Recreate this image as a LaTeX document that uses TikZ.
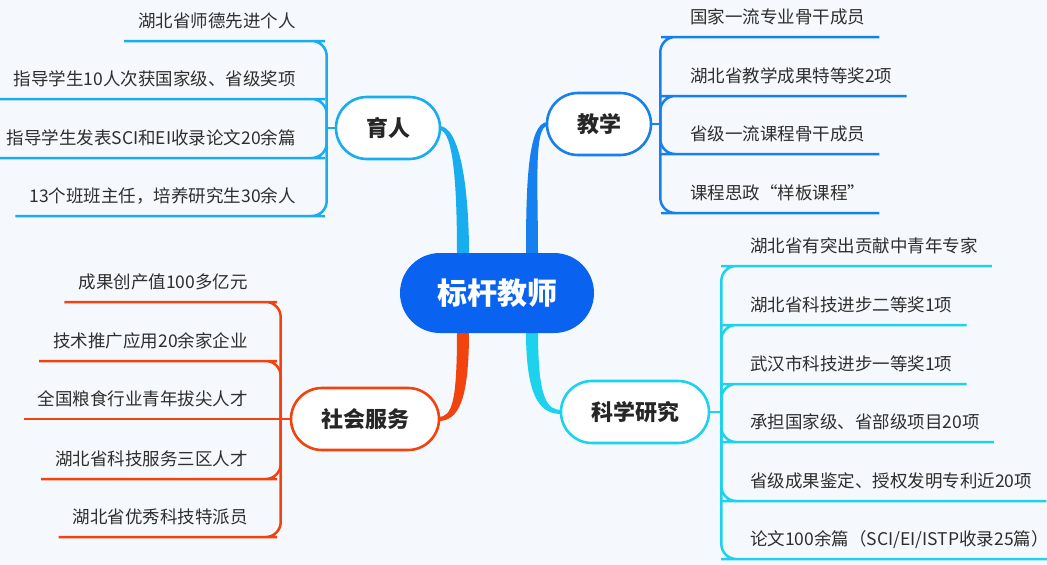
\documentclass[tikz,border=0pt]{standalone}
\usepackage{fontspec}
\usepackage{tikz}
\usetikzlibrary{positioning,calc}
\newfontfamily\cjk{Noto Sans CJK SC}
\definecolor{bgcol}{HTML}{F5F9FD}
\definecolor{hubcol}{HTML}{0A63F0}
\definecolor{yrcol}{HTML}{17ADEE}
\definecolor{jxcol}{HTML}{1681EE}
\definecolor{kycol}{HTML}{1DD2EC}
\definecolor{shcol}{HTML}{F2430F}
\definecolor{txtcol}{HTML}{2E2E2E}
\pgfdeclarelayer{back}
\pgfsetlayers{back,main}

\begin{document}
\begin{tikzpicture}[x=1pt,y=-1pt]
\tikzstyle{root}=[rectangle, rounded corners=40pt, fill=hubcol, text=white, minimum width=194pt, minimum height=80pt, font=\cjk\bfseries\fontsize{30}{32}\selectfont]
\tikzstyle{topic}=[rectangle, rounded corners=31pt, fill=white, line width=2.6pt, minimum height=62pt, inner xsep=30pt, text=black!85, font=\cjk\bfseries\fontsize{22}{24}\selectfont]
\tikzstyle{leaf}=[inner xsep=14pt, inner ysep=10pt, text height=13pt, text depth=3.5pt, text=txtcol, font=\cjk\fontsize{17.5}{20}\selectfont]
\tikzstyle{leafl}=[leaf, anchor=south east]
\tikzstyle{leafr}=[leaf, anchor=south west]
\tikzstyle{twig}=[line width=2.5pt, rounded corners=15pt]
  \useasboundingbox (0,0) rectangle (1047,565);

  \node[root] (teacher) at (497,293) {标杆教师};
  \node[topic, draw=yrcol] (yuren) at (388,128) {育人};
  \node[topic, draw=jxcol] (jiaoxue) at (599,124) {教学};
  \node[topic, draw=kycol] (keyan) at (635,412) {科学研究};
  \node[topic, draw=shcol] (shehui) at (365,419) {社会服务};

  \coordinate[left=8pt of yuren] (yrhub);
  \coordinate[right=8pt of jiaoxue] (jxhub);
  \coordinate[right=11pt of keyan] (kyhub);
  \coordinate[left=9pt of shehui] (shhub);

  % 育人
  \node[leafl] (yr1) at (310,41) {湖北省师德先进个人};
  \node[leafl] (yr2) at (310,99) {指导学生10人次获国家级、省级奖项};
  \node[leafl] (yr3) at (310,158) {指导学生发表SCI和EI收录论文20余篇};
  \node[leafl] (yr4) at (310,216) {13个班班主任，培养研究生30余人};
  \draw[twig, yrcol] (yuren.west) -- (yrhub);
  \draw[twig, yrcol] (yrhub) |- (yr1.south east) -- (yr1.south west);
  \draw[twig, yrcol] (yrhub) |- (yr2.south east) -- (yr2.south west);
  \draw[twig, yrcol] (yrhub) |- (yr3.south east) -- (yr3.south west);
  \draw[twig, yrcol] (yrhub) |- (yr4.south east) -- (yr4.south west);

  % 教学
  \node[leafr] (jx1) at (676,37) {国家一流专业骨干成员};
  \node[leafr] (jx2) at (676,96) {湖北省教学成果特等奖2项};
  \node[leafr] (jx3) at (676,154) {省级一流课程骨干成员};
  \node[leafr] (jx4) at (676,213) {课程思政“样板课程”};
  \draw[twig, jxcol] (jiaoxue.east) -- (jxhub);
  \draw[twig, jxcol] (jxhub) |- (jx1.south west) -- (jx1.south east);
  \draw[twig, jxcol] (jxhub) |- (jx2.south west) -- (jx2.south east);
  \draw[twig, jxcol] (jxhub) |- (jx3.south west) -- (jx3.south east);
  \draw[twig, jxcol] (jxhub) |- (jx4.south west) -- (jx4.south east);

  % 科学研究
  \node[leafr] (ky1) at (736,266) {湖北省有突出贡献中青年专家};
  \node[leafr] (ky2) at (736,325) {湖北省科技进步二等奖1项};
  \node[leafr] (ky3) at (736,384) {武汉市科技进步一等奖1项};
  \node[leafr] (ky4) at (736,442) {承担国家级、省部级项目20项};
  \node[leafr] (ky5) at (736,501) {省级成果鉴定、授权发明专利近20项};
  \node[leafr] (ky6) at (736,559) {论文100余篇（SCI/EI/ISTP收录25篇）};
  \draw[twig, kycol] (keyan.east) -- (kyhub);
  \draw[twig, kycol] (kyhub) |- (ky1.south west) -- (ky1.south east);
  \draw[twig, kycol] (kyhub) |- (ky2.south west) -- (ky2.south east);
  \draw[twig, kycol] (kyhub) |- (ky3.south west) -- (ky3.south east);
  \draw[twig, kycol] (kyhub) |- (ky4.south west) -- (ky4.south east);
  \draw[twig, kycol] (kyhub) |- (ky5.south west) -- (ky5.south east);
  \draw[twig, kycol] (kyhub) |- (ky6.south west) -- (ky6.south east);

  % 社会服务
  \node[leafl] (sh1) at (262,302) {成果创产值100多亿元};
  \node[leafl] (sh2) at (262,361) {技术推广应用20余家企业};
  \node[leafl] (sh3) at (262,419) {全国粮食行业青年拔尖人才};
  \node[leafl] (sh4) at (262,479) {湖北省科技服务三区人才};
  \node[leafl] (sh5) at (262,537) {湖北省优秀科技特派员};
  \draw[twig, shcol] (shehui.west) -- (shhub);
  \draw[twig, shcol] (shhub) |- (sh1.south east) -- (sh1.south west);
  \draw[twig, shcol] (shhub) |- (sh2.south east) -- (sh2.south west);
  \draw[twig, shcol] (shhub) -- (sh3.south east) -- (sh3.south west);
  \draw[twig, shcol] (shhub) |- (sh4.south east) -- (sh4.south west);
  \draw[twig, shcol] (shhub) |- (sh5.south east) -- (sh5.south west);

  % thick branches, under the nodes
  \begin{pgfonlayer}{back}
  \fill[bgcol] (0,0) rectangle (1047,565);
  \fill[yrcol] ($(yuren.east)+(-2,-2)$) .. controls +(20,0) and +(0,-70) .. ($(teacher.north)+(-28,2)$) -- ++(-12,0) .. controls +(0,-70) and +(14,0) .. ($(yuren.east)+(-2,2)$) -- cycle;
  \fill[jxcol] ($(jiaoxue.west)+(2,-2)$) .. controls +(-20,0) and +(0,-70) .. ($(teacher.north)+(29,2)$) -- ++(12,0) .. controls +(0,-70) and +(-14,0) .. ($(jiaoxue.west)+(2,2)$) -- cycle;
  \fill[shcol] ($(shehui.east)+(-2,2)$) .. controls +(20,0) and +(0,70) .. ($(teacher.south)+(-28,-2)$) -- ++(-12,0) .. controls +(0,70) and +(14,0) .. ($(shehui.east)+(-2,-2)$) -- cycle;
  \fill[kycol] ($(keyan.west)+(2,2)$) .. controls +(-20,0) and +(0,70) .. ($(teacher.south)+(29,-2)$) -- ++(12,0) .. controls +(0,70) and +(-14,0) .. ($(keyan.west)+(2,-2)$) -- cycle;
  \end{pgfonlayer}
\end{tikzpicture}
\end{document}
